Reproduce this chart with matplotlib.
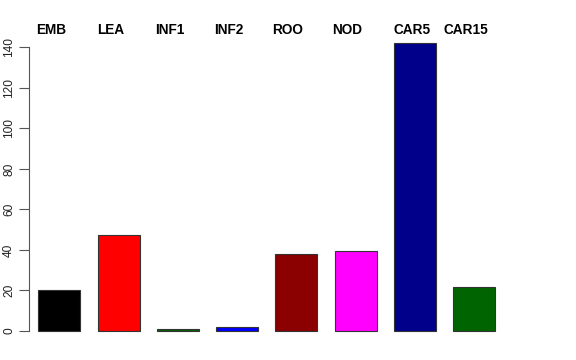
import matplotlib.pyplot as plt

# tissue expression values
tissues = ['EMB', 'LEA', 'INF1', 'INF2', 'ROO', 'NOD', 'CAR5', 'CAR15']
values = [20.4, 47.4, 0.8, 2.1, 38.2, 39.7, 142.2, 21.9]
colors = ['black', 'red', 'darkgreen', 'blue', 'darkred', 'magenta', 'darkblue', 'darkgreen']
yticks = [0, 20, 40, 60, 80, 100, 120, 140]

plt.rcParams['font.family'] = ['Liberation Sans', 'DejaVu Sans']

fig = plt.figure(figsize=(5.76, 3.6), dpi=100)
# axes placed in pixel terms to mimic the R plot region
ax = fig.add_axes([29 / 576, 1 - 342.5 / 360, (547 - 29) / 576, 311 / 360])

pos = list(range(len(tissues)))
ax.bar(pos, values, width=0.71, color=colors, edgecolor='#333333', linewidth=0.8)

ax.set_xlim(-0.511, 8.23)
ax.set_ylim(-5.69, 147.9)

for s in ['top', 'right', 'bottom']:
    ax.spines[s].set_visible(False)
ax.spines['left'].set_bounds(0, 140)
ax.spines['left'].set_color('#555555')
ax.set_xticks([])
ax.set_yticks(yticks)
ax.set_yticklabels([str(t) for t in yticks], rotation=90, va='center', fontsize=8.6)
ax.tick_params(axis='y', length=7, color='#555555', pad=3, labelcolor='#222222')

# top labels sit a little left of the bar centres (in bar-slot units)
shift = [-0.14] * 6 + [-0.05, -0.14]
for p, t, d in zip(pos, tissues, shift):
    ax.text(p + d, 0.992, t, transform=ax.get_xaxis_transform(), ha='center', va='baseline',
            fontsize=9.8, fontweight='bold')

fig.savefig('out.png', dpi=100)
